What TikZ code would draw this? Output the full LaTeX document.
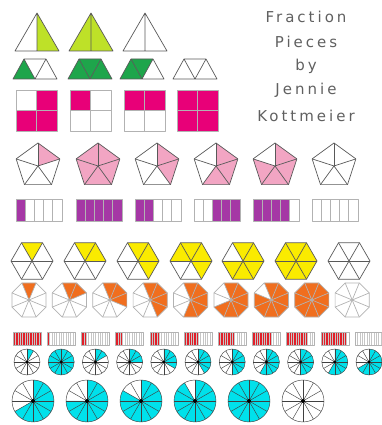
\documentclass[tikz,border=0pt]{standalone}
\usepackage{fontspec}
\newfontfamily\handfont[LetterSpace=20]{DejaVu Sans}
\usetikzlibrary{calc}
\usepackage{xcolor}

\definecolor{lime}{RGB}{190,225,40}
\definecolor{leaf}{RGB}{30,165,75}
\definecolor{rosepink}{RGB}{232,0,120}
\definecolor{blush}{RGB}{242,165,195}
\definecolor{plum}{RGB}{165,55,165}
\definecolor{sun}{RGB}{250,235,0}
\definecolor{tangerine}{RGB}{240,110,30}
\definecolor{brick}{RGB}{225,30,40}
\definecolor{aqua}{RGB}{0,225,235}

\begin{document}
\begin{tikzpicture}[
    x=1pt, y=1pt,
    edge/.style={draw=gray!70!black, line width=0.7pt, line join=round},
    softedge/.style={draw=gray!60, line width=0.7pt, line join=round},
    thinedge/.style={draw=gray!45, line width=0.3pt},
    spoke/.style={draw=black!75, line width=0.45pt},
    title/.style={font=\handfont\fontsize{15}{18}\selectfont, text=gray!75!black, anchor=center}
]
    \path[use as bounding box] (0,0) rectangle (382,425);

    % Title
    \node[title] (fraction) at (306,408) {Fraction};
    \node[title] (pieces) at (306,383) {Pieces};
    \node[title] (by) at (306,359) {by};
    \node[title] (jennie) at (306,335) {Jennie};
    \node[title] (kottmeier) at (306,309) {Kottmeier};

    % Halves (triangles)
    \fill[lime] (37,412) -- (59,374) -- (37,374) -- cycle;
    \fill[lime] (91,412) -- (113,374) -- (69,374) -- cycle;
    \foreach \cx in {37,91,145}
        \draw[edge] (\cx-22,374) -- (\cx,412) -- (\cx+22,374) -- cycle (\cx,412) -- (\cx,374);

    % Thirds (trapezoids)
    \foreach \x/\n in {13/1, 68/3, 120/2, 173/0} {
        \begin{scope}[shift={(\x,346)}]
            \ifnum\n>0 \fill[leaf] (0,0) -- (11,20) -- (22,0) -- cycle; \fi
            \ifnum\n>1 \fill[leaf] (11,20) -- (33,20) -- (22,0) -- cycle; \fi
            \ifnum\n>2 \fill[leaf] (22,0) -- (33,20) -- (44,0) -- cycle; \fi
            \draw[edge] (0,0) -- (11,20) -- (33,20) -- (44,0) -- cycle (11,20) -- (22,0) -- (33,20);
        \end{scope}
    }

    % Fourths (squares)
    \foreach \x/\tl/\tr/\bl/\br in {16/0/1/1/1, 70/1/0/0/0, 124/1/1/0/0, 177/1/1/1/1} {
        \begin{scope}[shift={(\x,294)}]
            \ifnum\tl=1 \fill[rosepink] (0,20.5) rectangle (20.5,41); \fi
            \ifnum\tr=1 \fill[rosepink] (20.5,20.5) rectangle (41,41); \fi
            \ifnum\bl=1 \fill[rosepink] (0,0) rectangle (20.5,20.5); \fi
            \ifnum\br=1 \fill[rosepink] (20.5,0) rectangle (41,20.5); \fi
            \draw[softedge] (0,0) rectangle (41,41) (20.5,0) -- (20.5,41) (0,20.5) -- (41,20.5);
        \end{scope}
    }

    % Fifths (pentagons)
    \foreach \cx/\n in {38/1, 98/5, 157/2, 216/3, 275/4, 334/0} {
        \begin{scope}[shift={(\cx,259)}]
            \ifnum\n>0
                \foreach \k in {1,...,\n}
                    \fill[blush] (0,0) -- ({162-72*\k}:23) -- ({90-72*\k}:23) -- cycle;
            \fi
            \draw[edge] (90:23) -- (18:23) -- (-54:23) -- (-126:23) -- (162:23) -- cycle;
            \foreach \k in {0,...,4}
                \draw[edge] (0,0) -- ({90-72*\k}:23);
        \end{scope}
    }

    % Fifths (bars)
    \foreach \cx/\cells in {38/{1}, 98/{1,2,3,4,5}, 157/{1,2}, 216/{3,4,5}, 275/{1,2,3,4}, 334/{0}} {
        \foreach \c in \cells {
            \ifnum\c>0 \fill[plum] ({\cx-22+9.2*(\c-1)},204) rectangle ++(9.2,22); \fi
        }
        \draw[softedge] (\cx-22,204) rectangle ++(46,22);
        \foreach \k in {1,...,4}
            \draw[softedge] ({\cx-22+9.2*\k},204) -- ++(0,22);
    }

    % Sixths (hexagons)
    \foreach \cx/\cells in {32/{0}, 85/{0,1}, 138/{0,1,2}, 191/{5,0,1,2}, 243/{0,1,2,3,4}, 296/{0,1,2,3,4,5}, 349/{-1}} {
        \begin{scope}[shift={(\cx,164)}]
            \foreach \c in \cells {
                \ifnum\c>-1 \fill[sun] (0,0) -- ({120-60*\c}:21) -- ({60-60*\c}:21) -- cycle; \fi
            }
            \draw[edge] (0:21) -- (60:21) -- (120:21) -- (180:21) -- (240:21) -- (300:21) -- cycle;
            \foreach \k in {0,...,2}
                \draw[edge] (60*\k:21) -- (60*\k+180:21);
        \end{scope}
    }

    % Eighths (octagons)
    \foreach \i in {0,...,8} {
        \pgfmathsetmacro\cx{29+40.4*\i}
        \pgfmathtruncatemacro\n{\i<8 ? \i+1 : 0}
        \begin{scope}[shift={(\cx,125)}]
            \ifnum\n>0
                \foreach \k in {1,...,\n}
                    \fill[tangerine] (0,0) -- ({157.5-45*\k}:18.5) -- ({112.5-45*\k}:18.5) -- cycle;
            \fi
            \draw[softedge] (22.5:18.5) \foreach \k in {1,...,7} { -- (22.5+45*\k:18.5) } -- cycle;
            \foreach \k in {0,...,3}
                \draw[softedge] (22.5+45*\k:18.5) -- (202.5+45*\k:18.5);
        \end{scope}
    }

    % Twelfths (bars)
    \foreach \i/\n in {0/12, 1/1, 2/2, 3/3, 4/4, 5/6, 6/7, 7/8, 8/9, 9/11, 10/0} {
        \pgfmathsetmacro\cx{27+34.2*\i}
        \ifnum\n>0 \fill[brick] (\cx-14,80) rectangle ++(28*\n/12,13); \fi
        \foreach \k in {1,...,11}
            \draw[thinedge] (\cx-14+28*\k/12,80) -- ++(0,13);
        \draw[softedge, line width=0.4pt] (\cx-14,80) rectangle ++(28,13);
    }

    % Twelfths (small circles)
    \foreach \i/\n in {0/1, 1/12, 2/2, 3/3, 4/4, 5/5, 6/6, 7/7, 8/6, 9/7, 10/8} {
        \pgfmathsetmacro\cx{27+34.2*\i}
        \ifnum\n>0
            \fill[aqua] (\cx,63) -- ++(90:13) arc[start angle=90, end angle={90-30*\n}, radius=13] -- cycle;
        \fi
        \draw[spoke] (\cx,63) circle[radius=13];
        \foreach \k in {0,...,5}
            \draw[spoke] (\cx,63) ++(30*\k:13) -- ++(30*\k+180:26);
        \fill[black] (\cx,63) circle[radius=1.6];
    }

    % Twelfths (big circles)
    \foreach \i/\n in {0/8, 1/9, 2/10, 3/11, 4/12, 5/0} {
        \pgfmathsetmacro\cx{33+54*\i}
        \ifnum\n>0
            \fill[aqua] (\cx,24) -- ++(90:21) arc[start angle=90, end angle={90-30*\n}, radius=21] -- cycle;
        \fi
        \draw[spoke] (\cx,24) circle[radius=21];
        \foreach \k in {0,...,5}
            \draw[spoke] (\cx,24) ++(30*\k:21) -- ++(30*\k+180:42);
        \fill[black] (\cx,24) circle[radius=2];
    }

\end{tikzpicture}
\end{document}
